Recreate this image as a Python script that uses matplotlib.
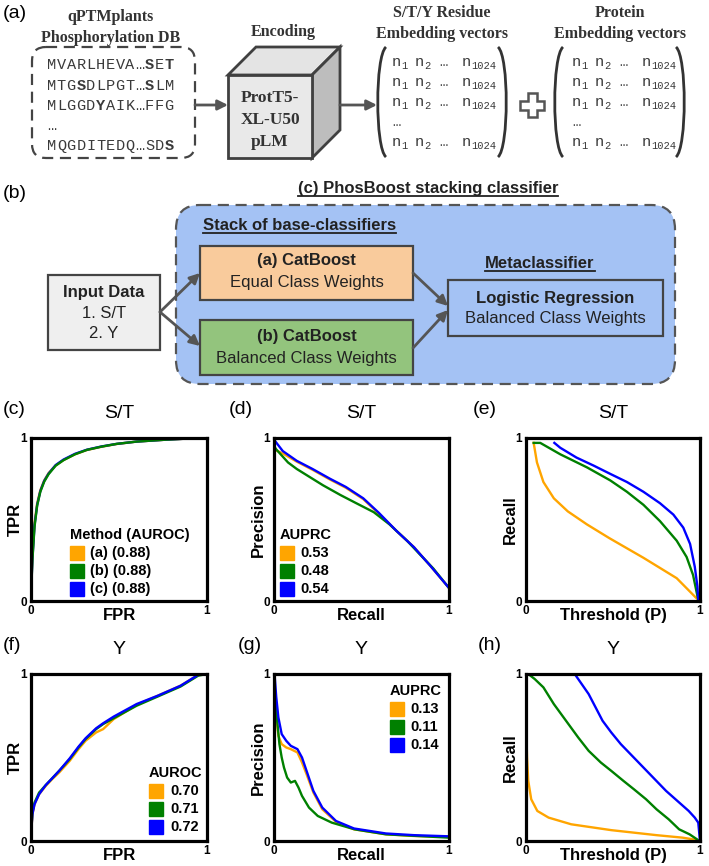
import matplotlib
matplotlib.use('Agg')
import matplotlib.pyplot as plt
from matplotlib.patches import FancyBboxPatch, Rectangle, Polygon, FancyArrowPatch, PathPatch
from matplotlib.path import Path

plt.rcParams['font.family'] = ['Liberation Sans', 'DejaVu Sans']

W, H = 709, 866
SERIF = 'Liberation Serif'
MONO = ['Liberation Mono', 'DejaVu Sans Mono']
EDGE = '#404040'
ORANGE, GREEN, BLUE = '#ffa500', '#008000', '#0000ff'

# ---- data ----
seq_lines = ['MVARLHEVA…SET', 'MTGSDLPGT…SLM', 'MLGGDYAIK…FFG', '…', 'MQGDITEDQ…SDS']
seq_bold = [{10, 12}, {3, 10}, {5}, set(), {12}]

# (c) ROC S/T
roc_st_fpr = [0, 0.004, 0.008, 0.02, 0.035, 0.053, 0.075, 0.1, 0.14, 0.185, 0.25, 0.317, 0.4, 0.487, 0.6, 0.77, 0.9, 1]
roc_st_tpr_a = [0, 0.17, 0.28, 0.48, 0.6, 0.68, 0.74, 0.785, 0.832, 0.865, 0.9, 0.926, 0.946, 0.963, 0.978, 0.99, 0.997, 1]
roc_st_tpr_b = [0, 0.14, 0.25, 0.455, 0.585, 0.67, 0.732, 0.778, 0.83, 0.864, 0.9, 0.927, 0.947, 0.964, 0.978, 0.99, 0.997, 1]
roc_st_tpr_c = [0, 0.15, 0.26, 0.465, 0.59, 0.675, 0.737, 0.782, 0.834, 0.868, 0.903, 0.928, 0.948, 0.964, 0.978, 0.99, 0.997, 1]

# (d) PR S/T
pr_st_rec_a = [0, 0.05, 0.13, 0.22, 0.32, 0.41, 0.51, 0.6, 0.7, 0.8, 0.89, 1]
pr_st_prec_a = [0.93, 0.905, 0.855, 0.805, 0.745, 0.695, 0.625, 0.535, 0.43, 0.33, 0.22, 0.08]
pr_st_rec_b = [0, 0.013, 0.08, 0.13, 0.19, 0.28, 0.38, 0.47, 0.57, 0.66, 0.76, 0.83, 0.91, 1]
pr_st_prec_b = [0.95, 0.93, 0.85, 0.81, 0.77, 0.71, 0.65, 0.6, 0.545, 0.47, 0.37, 0.29, 0.2, 0.08]
pr_st_rec_c = [0, 0.05, 0.13, 0.22, 0.32, 0.41, 0.51, 0.6, 0.7, 0.8, 0.89, 1]
pr_st_prec_c = [0.99, 0.92, 0.86, 0.81, 0.75, 0.7, 0.63, 0.54, 0.43, 0.33, 0.22, 0.08]

# (e) recall vs threshold S/T
thr_st_x_a = [0.044, 0.063, 0.1, 0.16, 0.24, 0.35, 0.48, 0.675, 0.866, 0.99]
thr_st_y_a = [0.97, 0.85, 0.73, 0.63, 0.55, 0.47, 0.385, 0.265, 0.14, 0.006]
thr_st_x_b = [0.044, 0.082, 0.197, 0.35, 0.484, 0.58, 0.675, 0.77, 0.866, 0.923, 0.96, 0.99]
thr_st_y_b = [0.97, 0.97, 0.9, 0.82, 0.74, 0.67, 0.59, 0.49, 0.37, 0.27, 0.16, 0.006]
thr_st_x_c = [0.163, 0.197, 0.29, 0.39, 0.484, 0.58, 0.675, 0.77, 0.847, 0.904, 0.943, 0.97, 0.985, 0.99]
thr_st_y_c = [0.97, 0.94, 0.88, 0.83, 0.78, 0.73, 0.67, 0.6, 0.53, 0.45, 0.35, 0.21, 0.09, 0.006]

# (f) ROC Y
roc_y_fpr = [0, 0.003, 0.008, 0.02, 0.046, 0.084, 0.12, 0.16, 0.22, 0.27, 0.31, 0.37, 0.41, 0.47, 0.6, 0.72, 0.85, 0.95, 1]
roc_y_tpr_a = [0, 0.08, 0.16, 0.22, 0.28, 0.33, 0.37, 0.41, 0.48, 0.55, 0.6, 0.65, 0.67, 0.73, 0.815, 0.87, 0.93, 0.995, 1]
roc_y_tpr_b = [0, 0.09, 0.17, 0.23, 0.29, 0.335, 0.375, 0.42, 0.49, 0.56, 0.61, 0.67, 0.7, 0.735, 0.81, 0.865, 0.925, 0.99, 1]
roc_y_tpr_c = [0, 0.08, 0.16, 0.22, 0.28, 0.335, 0.375, 0.42, 0.495, 0.565, 0.615, 0.675, 0.705, 0.745, 0.82, 0.87, 0.93, 0.995, 1]

# (g) PR Y
pr_y_rec_a = [0.003, 0.008, 0.013, 0.025, 0.044, 0.07, 0.096, 0.134, 0.16, 0.186, 0.225, 0.276, 0.354, 0.457, 0.64, 0.8, 1.0]
pr_y_prec_a = [0.95, 0.85, 0.75, 0.63, 0.58, 0.56, 0.55, 0.53, 0.47, 0.4, 0.29, 0.19, 0.115, 0.07, 0.04, 0.03, 0.025]
pr_y_rec_b = [0.003, 0.005, 0.018, 0.031, 0.044, 0.057, 0.075, 0.096, 0.12, 0.14, 0.16, 0.2, 0.25, 0.33, 0.46, 0.64, 1.0]
pr_y_prec_b = [0.9, 0.86, 0.72, 0.58, 0.5, 0.44, 0.38, 0.35, 0.36, 0.32, 0.27, 0.2, 0.15, 0.11, 0.07, 0.04, 0.02]
pr_y_rec_c = [0.003, 0.008, 0.013, 0.025, 0.044, 0.07, 0.096, 0.134, 0.16, 0.186, 0.225, 0.276, 0.354, 0.457, 0.64, 0.8, 1.0]
pr_y_prec_c = [1.0, 0.93, 0.86, 0.74, 0.64, 0.6, 0.57, 0.55, 0.5, 0.42, 0.3, 0.2, 0.12, 0.075, 0.045, 0.035, 0.028]

# (h) recall vs threshold Y
thr_y_x_a = [0, 0.003, 0.006, 0.013, 0.03, 0.065, 0.13, 0.26, 0.49, 0.75, 0.9, 0.99]
thr_y_y_a = [0.82, 0.62, 0.5, 0.36, 0.25, 0.18, 0.14, 0.1, 0.065, 0.035, 0.02, 0.005]
thr_y_x_b = [0.013, 0.05, 0.1, 0.16, 0.23, 0.3, 0.36, 0.43, 0.49, 0.56, 0.62, 0.69, 0.75, 0.82, 0.88, 0.94, 0.99]
thr_y_y_b = [1.0, 0.97, 0.92, 0.82, 0.72, 0.62, 0.54, 0.47, 0.42, 0.36, 0.31, 0.25, 0.19, 0.13, 0.07, 0.04, 0.005]
thr_y_x_c = [0.28, 0.32, 0.36, 0.4, 0.44, 0.49, 0.545, 0.61, 0.675, 0.74, 0.805, 0.87, 0.935, 0.97, 0.99, 1.0]
thr_y_y_c = [1.0, 0.94, 0.88, 0.8, 0.72, 0.65, 0.58, 0.51, 0.44, 0.37, 0.3, 0.24, 0.18, 0.14, 0.11, 0.0]

leg_roc_st = ['(a) (0.88)', '(b) (0.88)', '(c) (0.88)']
leg_pr_st = ['0.53', '0.48', '0.54']
leg_roc_y = ['0.70', '0.71', '0.72']
leg_pr_y = ['0.13', '0.11', '0.14']

fig = plt.figure(figsize=(W / 100, H / 100), dpi=100)
d = fig.add_axes([0, 0, 1, 1])
d.set_xlim(0, W)
d.set_ylim(H, 0)
d.axis('off')
rend = fig.canvas.get_renderer()


def arrow(p0, p1):
    d.add_patch(FancyArrowPatch(p0, p1, arrowstyle='-|>', mutation_scale=15,
                                color='#555555', lw=2, shrinkA=0, shrinkB=0))


def uline_text(x, y, s, ha='left', size=12):
    t = d.text(x, y, s, ha=ha, va='baseline', fontsize=size, fontweight='bold', color='#222222')
    bb = t.get_window_extent(renderer=rend)
    xs = d.transData.inverted().transform([[bb.x0, 0], [bb.x1, 0]])[:, 0]
    d.plot(xs, [y + 3, y + 3], color='#222222', lw=1.3)


def paren(x, y0, y1, bulge):
    verts = [(x, y0), (x + bulge, y0 + 9), (x + bulge, y1 - 9), (x, y1)]
    codes = [Path.MOVETO, Path.CURVE4, Path.CURVE4, Path.CURVE4]
    d.add_patch(PathPatch(Path(verts, codes), fc='none', ec='#333333', lw=2))


def matrix(x0, xl, xr, heading):
    d.text((xl + xr) / 2, 13, heading[0], ha='center', va='center', family=SERIF,
           fontweight='bold', fontsize=11.5, color='#333333')
    d.text((xl + xr) / 2, 34, heading[1], ha='center', va='center', family=SERIF,
           fontweight='bold', fontsize=11.5, color='#333333')
    paren(xl, 47, 157, -11)
    paren(xr, 47, 157, 11)
    for yy in [66, 86, 106, 146]:
        for dx, sub in [(0, '1'), (23, '2'), (70, '1024')]:
            d.text(x0 + dx, yy, 'n', family=MONO, fontsize=11, va='baseline', color='#3a3a3a')
            d.text(x0 + dx + 9, yy + 3, sub, family=MONO, fontsize=7.5, va='baseline', color='#3a3a3a')
        d.text(x0 + 47, yy, '…', family=MONO, fontsize=10, va='baseline', color='#3a3a3a')
    d.text(x0, 126, '…', family=MONO, fontsize=10, va='baseline', color='#3a3a3a')


# ---- (a) encoding pipeline ----
d.text(3, 14, '(a)', fontsize=14, va='center')
d.text(111, 17, 'qPTMplants', ha='center', va='center', family=SERIF, fontweight='bold',
       fontsize=11.5, color='#333333')
d.text(111, 38, 'Phosphorylation DB', ha='center', va='center', family=SERIF, fontweight='bold',
       fontsize=11.5, color='#333333')
d.add_patch(FancyBboxPatch((32, 47), 163, 111, boxstyle='round,pad=0,rounding_size=14',
                           fc='none', ec='#444444', lw=1.6, ls=(0, (5, 3))))
for row, (seq, yy) in enumerate(zip(seq_lines, [65, 86, 106, 126, 146])):
    for i, ch in enumerate(seq):
        d.text(47 + i * 9.8, yy, ch, family=MONO, fontsize=11, va='center', color='#3a3a3a',
               fontweight='bold' if i in seq_bold[row] else 'normal')

arrow((195, 105), (228, 105))
d.add_patch(Polygon([(228, 75), (256, 47), (340, 47), (312, 75)], fc='#e4e4e4', ec=EDGE, lw=2))
d.add_patch(Polygon([(312, 75), (340, 47), (340, 130), (312, 158)], fc='#bdbdbd', ec=EDGE, lw=2))
d.add_patch(Rectangle((228, 75), 84, 83, fc='#e9e9e9', ec=EDGE, lw=2))
d.text(283, 32, 'Encoding', ha='center', va='center', family=SERIF, fontweight='bold',
       fontsize=11.5, color='#333333')
for txt, yy in zip(['ProtT5-', 'XL-U50', 'pLM'], [98, 120, 142]):
    d.text(270, yy, txt, ha='center', va='center', family=SERIF, fontweight='bold',
           fontsize=12.5, color='#333333')
arrow((340, 105), (377, 105))

matrix(392, 386, 498, ['S/T/Y Residue', 'Embedding vectors'])
matrix(572, 563, 676, ['Protein', 'Embedding vectors'])
a, L, cx, cy = 4.5, 12, 532, 105
cross = [(-a, -L), (a, -L), (a, -a), (L, -a), (L, a), (a, a), (a, L), (-a, L), (-a, a), (-L, a), (-L, -a), (-a, -a)]
d.add_patch(Polygon([(cx + px, cy + py) for px, py in cross], fc='white', ec='#555555', lw=1.8))

# ---- (b) classifier ----
d.text(3, 193, '(b)', fontsize=14, va='center')
d.add_patch(FancyBboxPatch((176, 205), 499, 179, boxstyle='round,pad=0,rounding_size=24',
                           fc='#a4c2f4', ec='#555555', lw=1.6, ls=(0, (5, 3))))
uline_text(428, 193, '(c) PhosBoost stacking classifier', ha='center')
uline_text(203, 230, 'Stack of base-classifiers')
uline_text(540, 268, 'Metaclassifier', ha='center')

boxes = [((48, 275, 112, 75), '#efefef', ['Input Data', '1. S/T', '2. Y'], [293, 314, 334]),
         ((200, 246, 213, 54), '#f9cb9c', ['(a) CatBoost', 'Equal Class Weights'], [261, 282]),
         ((200, 320, 213, 55), '#93c47d', ['(b) CatBoost', 'Balanced Class Weights'], [337, 358]),
         ((448, 280, 215, 56), '#a4c2f4', ['Logistic Regression', 'Balanced Class Weights'], [299, 319])]
for (x, y, w, h), fc, lines, ys in boxes:
    d.add_patch(Rectangle((x, y), w, h, fc=fc, ec='#444444', lw=1.6))
    for i, (txt, yy) in enumerate(zip(lines, ys)):
        d.text(x + w / 2, yy, txt, ha='center', va='center', fontsize=12, color='#222222',
               fontweight='bold' if i == 0 else 'normal')

arrow((160, 312), (200, 273))
arrow((160, 312), (200, 346))
arrow((413, 273), (448, 306))
arrow((413, 348), (448, 310))


# ---- plots ----
def panel(box, letter, lx, title, xlabel, ylabel, curves):
    l, t, r, b = box
    ax = fig.add_axes([l / W, 1 - b / H, (r - l) / W, (b - t) / H])
    for x, y, c in curves:
        ax.plot(x, y, color=c, lw=1.7)
    ax.set_xlim(0, 1)
    ax.set_ylim(0, 1)
    ax.set_xticks([0, 1])
    ax.set_yticks([0, 1])
    ax.tick_params(length=0, labelsize=8.5, pad=3)
    for lab in ax.get_xticklabels() + ax.get_yticklabels():
        lab.set_fontweight('bold')
    for s in ax.spines.values():
        s.set_linewidth(2.3)
    ax.text(0.5, 1 + 25 / (b - t), title, transform=ax.transAxes, ha='center', va='center', fontsize=14)
    ax.text(0.5, -0.04, xlabel, transform=ax.transAxes, ha='center', va='top',
            fontsize=12, fontweight='bold')
    ax.text(-16 / (r - l), 0.5, ylabel, transform=ax.transAxes, ha='center', va='center',
            rotation=90, fontsize=12, fontweight='bold')
    d.text(lx, t - 28, letter, fontsize=14, va='center')
    return ax


def legend(ax, x0, ytitle, title, labels, xtext):
    sw, sh = 14 / ax.bbox.width, 14 / ax.bbox.height
    dy = 18 / ax.bbox.height
    ax.text(x0, ytitle, title, transform=ax.transAxes, ha='left', va='center',
            fontsize=10.5, fontweight='bold')
    for i, (lab, c) in enumerate(zip(labels, [ORANGE, GREEN, BLUE])):
        y = ytitle - (i + 1) * dy
        ax.add_patch(Rectangle((x0, y - sh / 2), sw, sh, transform=ax.transAxes, color=c))
        ax.text(xtext, y, lab, transform=ax.transAxes, ha='left', va='center',
                fontsize=10.5, fontweight='bold')


row1, row2 = (438, 601), (674, 841)
ax_c = panel((31, row1[0], 207, row1[1]), '(c)', 3, 'S/T', 'FPR', 'TPR',
             [(roc_st_fpr, roc_st_tpr_a, ORANGE), (roc_st_fpr, roc_st_tpr_c, BLUE),
              (roc_st_fpr, roc_st_tpr_b, GREEN)])
legend(ax_c, 0.22, 0.405, 'Method (AUROC)', leg_roc_st, 0.335)
ax_d = panel((274, row1[0], 449, row1[1]), '(d)', 229, 'S/T', 'Recall', 'Precision',
             [(pr_st_rec_a, pr_st_prec_a, ORANGE), (pr_st_rec_b, pr_st_prec_b, GREEN),
              (pr_st_rec_c, pr_st_prec_c, BLUE)])
legend(ax_d, 0.035, 0.405, 'AUPRC', leg_pr_st, 0.15)
panel((526, row1[0], 700, row1[1]), '(e)', 473, 'S/T', 'Threshold (P)', 'Recall',
      [(thr_st_x_a, thr_st_y_a, ORANGE), (thr_st_x_b, thr_st_y_b, GREEN),
       (thr_st_x_c, thr_st_y_c, BLUE)])

ax_f = panel((31, row2[0], 207, row2[1]), '(f)', 3, 'Y', 'FPR', 'TPR',
             [(roc_y_fpr, roc_y_tpr_a, ORANGE), (roc_y_fpr, roc_y_tpr_b, GREEN),
              (roc_y_fpr, roc_y_tpr_c, BLUE)])
legend(ax_f, 0.67, 0.41, 'AUROC', leg_roc_y, 0.79)
ax_g = panel((274, row2[0], 449, row2[1]), '(g)', 238, 'Y', 'Recall', 'Precision',
             [(pr_y_rec_a, pr_y_prec_a, ORANGE), (pr_y_rec_b, pr_y_prec_b, GREEN),
              (pr_y_rec_c, pr_y_prec_c, BLUE)])
legend(ax_g, 0.66, 0.9, 'AUPRC', leg_pr_y, 0.78)
panel((526, row2[0], 700, row2[1]), '(h)', 478, 'Y', 'Threshold (P)', 'Recall',
      [(thr_y_x_a, thr_y_y_a, ORANGE), (thr_y_x_b, thr_y_y_b, GREEN),
       (thr_y_x_c, thr_y_y_c, BLUE)])

fig.savefig('out.png', dpi=100)
